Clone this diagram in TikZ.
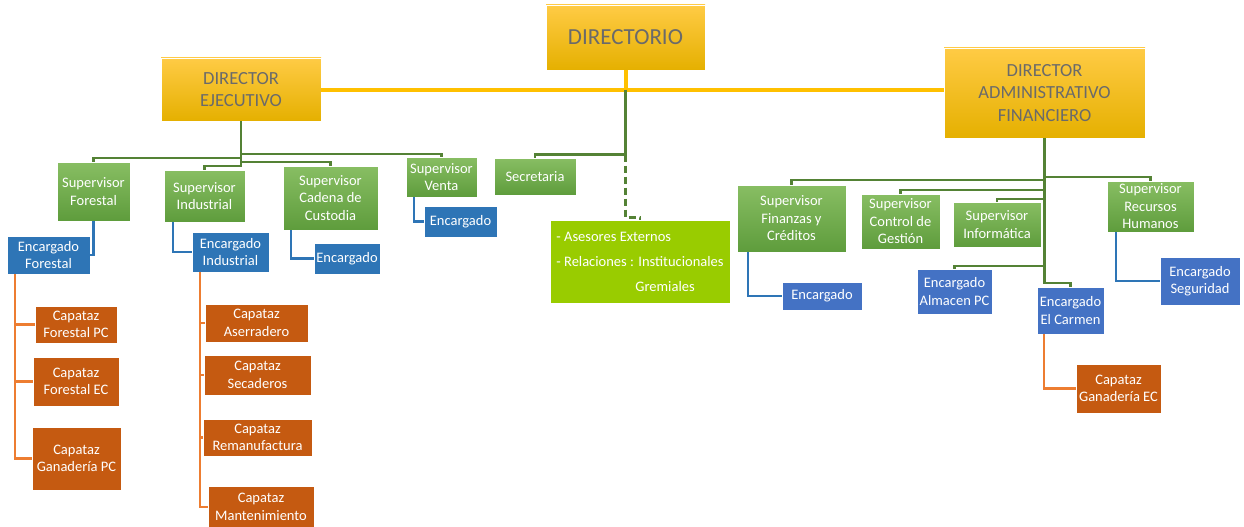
\documentclass[tikz,border=0pt]{standalone}
\usepackage{fontspec}
\setmainfont{Carlito}
\definecolor{goldtop}{HTML}{FFCB45}
\definecolor{goldmid}{HTML}{FFC000}
\definecolor{goldbot}{HTML}{E5B000}
\definecolor{dirtext}{HTML}{6A6A6A}
\definecolor{suptop}{HTML}{88BE63}
\definecolor{supbot}{HTML}{5E9C3C}
\definecolor{encblue}{HTML}{2E75B6}
\definecolor{encblueb}{HTML}{4472C4}
\definecolor{caporange}{HTML}{C55A11}
\definecolor{asesgreen}{HTML}{99CC00}
\definecolor{lgreen}{HTML}{548235}
\definecolor{lblue}{HTML}{2E75B6}
\definecolor{lorange}{HTML}{ED7D31}

\begin{document}
\begin{tikzpicture}[x=1pt,y=-1pt,
  box/.style={rectangle, draw=white, line width=0.5pt, align=center, inner sep=1pt,
    text=white, font=\fontsize{14.5}{17.5}\selectfont},
  dirbox/.style={box, top color=goldtop, middle color=goldmid, bottom color=goldbot,
    text=dirtext, font=\fontsize{18.5}{22.5}\selectfont},
  supbox/.style={box, top color=suptop, bottom color=supbot},
  encbox/.style={box, fill=encblue},
  encboxb/.style={box, fill=encblueb},
  capbox/.style={box, fill=caporange},
  yline/.style={draw=goldmid, line width=4pt},
  gline/.style={draw=lgreen, line width=2.4pt},
  bline/.style={draw=lblue, line width=2.3pt},
  oline/.style={draw=lorange, line width=2.2pt}]

  \useasboundingbox (0,0) rectangle (1244,527);

  \node[dirbox, minimum width=159, minimum height=65, font=\fontsize{23}{27}\selectfont] (dir) at (625.5,37.5) {DIRECTORIO};
  \node[dirbox, minimum width=160, minimum height=63] (dirje) at (241,89.5) {DIRECTOR\\EJECUTIVO};
  \node[dirbox, minimum width=201, minimum height=90] (dirad) at (1044.5,93) {DIRECTOR\\ADMINISTRATIVO\\FINANCIERO};

  \node[supbox, minimum width=73, minimum height=59] (supfor) at (93.5,191.5) {Supervisor\\Forestal};
  \node[supbox, minimum width=81, minimum height=52] (supind) at (204.5,196) {Supervisor\\Industrial};
  \node[supbox, minimum width=95, minimum height=64] (supcad) at (330.5,198) {Supervisor\\Cadena de\\Custodia};
  \node[supbox, minimum width=71, minimum height=40] (supven) at (441.5,177) {Supervisor\\Venta};
  \node[supbox, minimum width=82, minimum height=37] (secr) at (535,176.5) {Secretaria};
  \node[box, fill=asesgreen, minimum width=180, minimum height=83, align=left,
    font=\fontsize{14.5}{25}\selectfont] (ases) at (640,261.5)
    {- Asesores Externos\\- Relaciones : Institucionales\\\hspace*{79pt}Gremiales};

  \node[encbox, minimum width=83, minimum height=38] (encfor) at (48.5,255) {Encargado\\Forestal};
  \node[encbox, minimum width=77, minimum height=40] (encind) at (230.5,252) {Encargado\\Industrial};
  \node[encbox, minimum width=66, minimum height=31] (enccad) at (347,258.5) {Encargado};
  \node[encbox, minimum width=73, minimum height=31] (encven) at (460.5,221.5) {Encargado};

  \node[capbox, minimum width=82, minimum height=37] (capfpc) at (76,324.5) {Capataz\\Forestal PC};
  \node[capbox, minimum width=86, minimum height=49] (capfec) at (76,381.5) {Capataz\\Forestal EC};
  \node[capbox, minimum width=89, minimum height=63] (capgpc) at (76.5,458.5) {Capataz\\Ganadería PC};
  \node[capbox, minimum width=103, minimum height=38] (capase) at (256.5,323) {Capataz\\Aserradero};
  \node[capbox, minimum width=107, minimum height=40] (capsec) at (257.5,375) {Capataz\\Secaderos};
  \node[capbox, minimum width=109, minimum height=37] (caprem) at (257.5,437.5) {Capataz\\Remanufactura};
  \node[capbox, minimum width=106, minimum height=42] (capman) at (261,507) {Capataz\\Mantenimiento};

  \node[supbox, minimum width=109, minimum height=67] (supfin) at (791.5,218.5) {Supervisor\\Finanzas y\\Créditos};
  \node[supbox, minimum width=79, minimum height=55] (supcon) at (900.5,221.5) {Supervisor\\Control de\\Gestión};
  \node[supbox, minimum width=88, minimum height=45] (supinf) at (997,224.5) {Supervisor\\Informática};
  \node[supbox, minimum width=87, minimum height=51] (suprh) at (1150.5,206.5) {Supervisor\\Recursos\\Humanos};

  \node[encboxb, minimum width=80, minimum height=28] (encfin) at (822,296) {Encargado};
  \node[encboxb, minimum width=75, minimum height=45] (encalm) at (954.5,291.5) {Encargado\\Almacen PC};
  \node[encboxb, minimum width=67, minimum height=47] (encarm) at (1070.5,310.5) {Encargado\\El Carmen};
  \node[encboxb, minimum width=80, minimum height=48] (encseg) at (1200,281) {Encargado\\Seguridad};
  \node[capbox, minimum width=85, minimum height=49] (capgec) at (1118.5,388.5) {Capataz\\Ganadería EC};

  \draw[yline] (dirje.east) -- (dirje.east -| dirad.west);
  \draw[yline] (dir.south) -- (dir.south |- dirje.east);
  \coordinate (hub) at (dir.south |- dirje.east);

  \draw[gline] (dirje.south) -- ++(0,37) -| (supfor.north);
  \draw[gline] (dirje.south) -- ++(0,45) -| (supind.north);
  \draw[gline] (dirje.south) -- ++(0,41) -| (supcad.north);
  \draw[gline] (dirje.south) -- ++(0,33) -| (supven.north);
  \draw[gline] (hub) -- ++(0,65) coordinate (hubb) -| (secr.north);
  \draw[gline, dash pattern=on 7pt off 4pt] (hubb) -- ++(0,63) -| (ases.north);

  \draw[bline] (supfor.south) |- (encfor.east);
  \draw[bline] ([xshift=-31.5]supind.south) |- (encind.west);
  \draw[bline] ([xshift=-39.5]supcad.south) |- (enccad.west);
  \draw[bline] ([xshift=-27.5]supven.south) |- (encven.west);

  \draw[oline] ([xshift=-33.5]encfor.south) |- (capfpc.west);
  \draw[oline] ([xshift=-33.5]encfor.south) |- (capfec.west);
  \draw[oline] ([xshift=-33.5]encfor.south) |- (capgpc.west);
  \draw[oline] ([xshift=-30.5]encind.south) |- (capase.west);
  \draw[oline] ([xshift=-30.5]encind.south) |- (capsec.west);
  \draw[oline] ([xshift=-30.5]encind.south) |- (caprem.west);
  \draw[oline] ([xshift=-30.5]encind.south) |- (capman.west);

  \draw[gline] (dirad.south) -- ++(0,42) -| (supfin.north);
  \draw[gline] (dirad.south) -- ++(0,52) -| (supcon.north);
  \draw[gline] (dirad.south) -- ++(0,61) -| (supinf.north);
  \draw[gline] (dirad.south) -- ++(0,39) -| (suprh.north);
  \draw[gline] (dirad.south) -- ++(0,128) -| (encalm.north);
  \draw[gline] (dirad.south) -- ++(0,145) -| (encarm.north);

  \draw[bline] ([xshift=-43.5]supfin.south) |- (encfin.west);
  \draw[bline] ([xshift=-34.5]suprh.south) |- (encseg.west);
  \draw[oline] ([xshift=-26.5]encarm.south) |- (capgec.west);

\end{tikzpicture}
\end{document}
